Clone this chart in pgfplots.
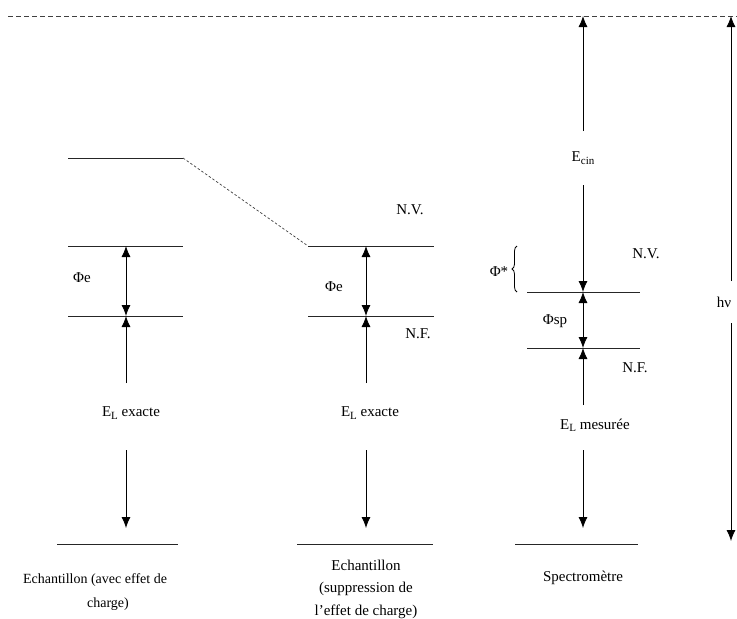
\documentclass[border=0pt]{standalone}
\usepackage{pgfplots}
\pgfplotsset{compat=1.18}
\usepackage{fontspec}
\setmainfont{Liberation Serif}
\usetikzlibrary{arrows.meta,decorations.pathreplacing}

\begin{document}
\begin{tikzpicture}[font=\fontsize{15}{17}\selectfont]
\begin{axis}[
  width=737pt, height=619pt, scale only axis,
  xmin=0, xmax=737, ymin=0, ymax=619, y dir=reverse,
  axis lines=none, clip=true,
  lvl/.style={black!85, line width=1pt, no markers},
  up/.style={black, line width=0.8pt, no markers, -{Latex[length=11pt,width=9pt]}},
  both/.style={black, line width=0.8pt, no markers, {Latex[length=11pt,width=9pt]}-{Latex[length=11pt,width=9pt]}},
]
% vacuum level (top dashed line)
\addplot[black!75, line width=0.9pt, dash pattern=on 5pt off 3pt] coordinates {(8,16) (737,16)};

% --- Echantillon (avec effet de charge)
\addplot[lvl] coordinates {(68,158) (183,158)};
\addplot[black!75, line width=0.7pt, dash pattern=on 2.5pt off 2pt] coordinates {(183,158) (308,246)};
\addplot[lvl] coordinates {(68,246) (183,246)};
\addplot[lvl] coordinates {(68,316) (183,316)};
\addplot[both] coordinates {(126,246) (126,316)};
\addplot[up] coordinates {(126,383) (126,316)};
\addplot[up] coordinates {(126,450) (126,528)};
\addplot[lvl] coordinates {(57,544) (178,544)};

% --- Echantillon (suppression de l'effet de charge)
\addplot[lvl] coordinates {(308,246) (434,246)};
\addplot[lvl] coordinates {(308,316) (434,316)};
\addplot[both] coordinates {(366,246) (366,316)};
\addplot[up] coordinates {(366,383) (366,316)};
\addplot[up] coordinates {(366,450) (366,528)};
\addplot[lvl] coordinates {(297,544) (433,544)};

% --- Spectrometre
\addplot[up] coordinates {(583,131) (583,16)};
\addplot[up] coordinates {(583,185) (583,292)};
\addplot[lvl] coordinates {(527,292) (640,292)};
\addplot[lvl] coordinates {(527,348) (640,348)};
\addplot[both] coordinates {(583,292) (583,348)};
\addplot[up] coordinates {(583,405) (583,348)};
\addplot[up] coordinates {(583,450) (583,528)};
\addplot[lvl] coordinates {(515,544) (638,544)};
\addplot[black, line width=0.8pt, decorate, decoration={brace, amplitude=5pt}] coordinates {(517,292) (517,246)};

% --- h nu
\addplot[up] coordinates {(731,281) (731,16)};
\addplot[up] coordinates {(731,323) (731,541)};

% labels
\node at (axis cs:82,278) {Φe};
\node at (axis cs:131,413) {E\raisebox{-0.35ex}{\fontsize{11}{12}\selectfont L} exacte};
\node at (axis cs:95,580) {\fontsize{14}{16}\selectfont Echantillon (avec effet de};
\node at (axis cs:108,604) {\fontsize{14}{16}\selectfont charge)};

\node at (axis cs:410,210) {N.V.};
\node at (axis cs:334,287) {Φe};
\node at (axis cs:418,334) {N.F.};
\node at (axis cs:370,413) {E\raisebox{-0.35ex}{\fontsize{11}{12}\selectfont L} exacte};
\node at (axis cs:366,565) {Echantillon};
\node at (axis cs:366,589) {(suppression de};
\node at (axis cs:366,612) {l’effet de charge)};

\node at (axis cs:583,158) {E\raisebox{-0.35ex}{\fontsize{11}{12}\selectfont cin}};
\node at (axis cs:646,254) {N.V.};
\node at (axis cs:499,272) {Φ*};
\node at (axis cs:555,321) {Φsp};
\node at (axis cs:635,368) {N.F.};
\node at (axis cs:595,425) {E\raisebox{-0.35ex}{\fontsize{11}{12}\selectfont L} mesurée};
\node at (axis cs:583,578) {Spectromètre};
\node[fill=white, inner sep=1pt] at (axis cs:724,302) {hν};
\end{axis}
\pgfresetboundingbox
\useasboundingbox (current axis.south west) rectangle (current axis.north east);
\end{tikzpicture}
\end{document}
